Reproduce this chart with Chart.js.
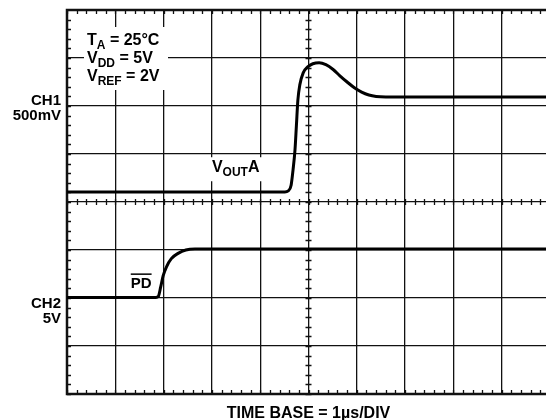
<!DOCTYPE html>
<html>
<head>
<meta charset="utf-8">
<script src="https://cdn.jsdelivr.net/npm/chart.js@4.4.1/dist/chart.umd.min.js"></script>
<style>
  html, body { margin: 0; padding: 0; background: #fff; overflow: hidden; }
</style>
</head>
<body>
<canvas id="scope" width="551" height="420"></canvas>
<script>
// time in µs (1 µs/div), level in screen divisions (0 = bottom, 8 = top)
const ch1Time = [0, 4.51, 4.58, 4.64, 4.68, 4.72, 4.75, 4.78, 4.82, 4.89, 4.99, 5.09, 5.22, 5.36, 5.51, 5.65, 5.80, 5.95, 6.10, 6.25, 6.40, 6.60, 10];
const ch1Level = [4.21, 4.21, 4.23, 4.35, 4.67, 5.08, 5.60, 6.12, 6.44, 6.69, 6.82, 6.88, 6.90, 6.86, 6.76, 6.63, 6.50, 6.38, 6.29, 6.23, 6.20, 6.19, 6.19];
const ch2Time = [0, 1.84, 1.89, 1.94, 1.99, 2.06, 2.16, 2.30, 2.46, 2.65, 10];
const ch2Level = [2.01, 2.01, 2.03, 2.23, 2.46, 2.65, 2.82, 2.93, 3.00, 3.02, 3.02];

const xDivs = 10;
const yDivs = 8;
const FONT = '"Liberation Sans", Arial, Helvetica, sans-serif';

const toPoints = (xs, ys) => xs.map((x, i) => ({ x: x, y: ys[i] }));

function subText(ctx, x, y, parts) {
  // parts: [text, isSub]
  parts.forEach(p => {
    ctx.font = p[1] ? 'bold 12px ' + FONT : 'bold 16px ' + FONT;
    ctx.fillText(p[0], x, p[1] ? y + 4 : y);
    x += ctx.measureText(p[0]).width;
  });
  return x;
}

const scopeDecor = {
  id: 'scopeDecor',
  beforeDatasetsDraw(chart) {
    const { ctx, chartArea: a, scales: { x, y } } = chart;
    ctx.save();
    ctx.strokeStyle = '#111';
    ctx.lineWidth = 1.3;
    ctx.beginPath();
    const tl = 4;
    const cx = x.getPixelForValue(xDivs / 2);
    const cy = y.getPixelForValue(yDivs / 2);
    for (let v = 0; v <= xDivs; v += 0.2) {
      const px = Math.round(x.getPixelForValue(v)) + 0.5;
      ctx.moveTo(px, a.top); ctx.lineTo(px, a.top + tl);
      ctx.moveTo(px, a.bottom); ctx.lineTo(px, a.bottom - tl);
      ctx.moveTo(px, cy - 3); ctx.lineTo(px, cy + 3);
    }
    for (let v = 0; v <= yDivs; v += 0.2) {
      const py = Math.round(y.getPixelForValue(v)) + 0.5;
      ctx.moveTo(a.left, py); ctx.lineTo(a.left + tl, py);
      ctx.moveTo(a.right, py); ctx.lineTo(a.right - tl, py);
      ctx.moveTo(cx - 3, py); ctx.lineTo(cx + 3, py);
    }
    ctx.stroke();
    ctx.lineWidth = 2.5;
    ctx.strokeRect(a.left, a.top, a.right - a.left, a.bottom - a.top);
    ctx.restore();
  },
  afterDatasetsDraw(chart) {
    const { ctx, scales: { x, y } } = chart;
    ctx.save();
    ctx.textBaseline = 'alphabetic';

    // conditions box
    ctx.fillStyle = '#fff';
    ctx.fillRect(84, 27, 84, 63);
    ctx.fillStyle = '#000';
    ctx.textAlign = 'left';
    subText(ctx, 87, 45, [['T', 0], ['A', 1], [' = 25°C', 0]]);
    subText(ctx, 87, 63, [['V', 0], ['DD', 1], [' = 5V', 0]]);
    subText(ctx, 87, 81, [['V', 0], ['REF', 1], [' = 2V', 0]]);

    // VOUTA label
    const vx = x.getPixelForValue(3.0);
    const vy = y.getPixelForValue(4.62);
    ctx.fillStyle = '#fff';
    ctx.fillRect(vx - 3, vy - 15, 58, 24);
    ctx.fillStyle = '#000';
    subText(ctx, vx, vy, [['V', 0], ['OUT', 1], ['A', 0]]);

    // PD label with overline
    const px = x.getPixelForValue(1.32);
    const py = y.getPixelForValue(2.2);
    ctx.font = 'bold 15px ' + FONT;
    ctx.fillText('PD', px, py);
    const w = ctx.measureText('PD').width;
    ctx.fillRect(px, py - 15, w, 1.5);

    // channel labels
    ctx.textAlign = 'right';
    ctx.font = 'bold 15px ' + FONT;
    ctx.fillText('CH1', 61, 105);
    ctx.fillText('500mV', 61, 120);
    ctx.fillText('CH2', 61, 308);
    ctx.fillText('5V', 61, 323);

    ctx.textAlign = 'center';
    ctx.font = 'bold 16px ' + FONT;
    ctx.fillText('TIME BASE = 1µs/DIV', x.getPixelForValue(xDivs / 2), 418);
    ctx.restore();
  }
};

const lineStyle = {
  borderColor: '#000',
  borderWidth: 3,
  pointRadius: 0,
  cubicInterpolationMode: 'monotone',
  fill: false
};

new Chart(document.getElementById('scope'), {
  type: 'line',
  data: {
    datasets: [
      Object.assign({ label: 'VOUTA', data: toPoints(ch1Time, ch1Level) }, lineStyle),
      Object.assign({ label: 'PD', data: toPoints(ch2Time, ch2Level) }, lineStyle)
    ]
  },
  options: {
    responsive: false,
    animation: false,
    layout: { padding: { left: 67, right: 1, top: 10, bottom: 26 } },
    plugins: { legend: { display: false }, tooltip: { enabled: false } },
    scales: {
      x: {
        type: 'linear', min: 0, max: xDivs,
        ticks: { display: false, stepSize: 1 },
        grid: { color: '#111', lineWidth: 1.3, drawTicks: false },
        border: { display: false },
        afterFit: s => { s.height = 0; }
      },
      y: {
        type: 'linear', min: 0, max: yDivs,
        ticks: { display: false, stepSize: 1 },
        grid: { color: '#111', lineWidth: 1.3, drawTicks: false },
        border: { display: false },
        afterFit: s => { s.width = 0; }
      }
    }
  },
  plugins: [scopeDecor]
});
</script>
</body>
</html>
